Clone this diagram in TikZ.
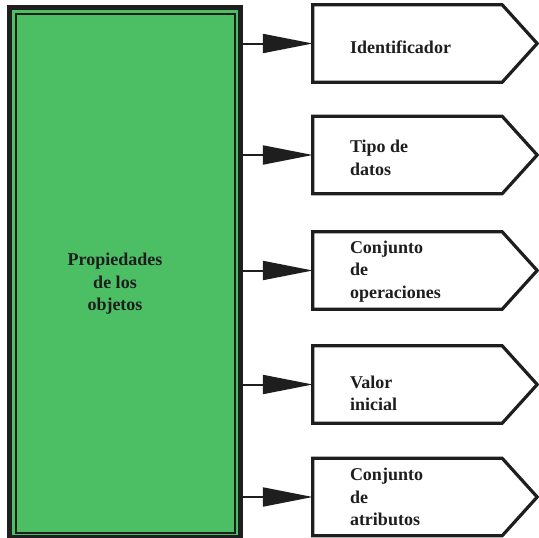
\documentclass[tikz,border=0pt]{standalone}
\usepackage{fontspec}
\setmainfont{Liberation Serif}
\usetikzlibrary{arrows.meta}
\definecolor{objgreen}{RGB}{76,190,100}
\definecolor{ink}{RGB}{30,30,30}
\tikzset{
  box/.style={draw=none, inner sep=0pt, minimum width=224pt, minimum height=77pt},
  penta/.style={draw=ink, line width=3.2pt, line join=miter, fill=white},
  lbl/.style={anchor=west, align=left, inner sep=0pt, font=\fontsize{18}{22.5}\selectfont\bfseries, text=ink},
  arr/.style={draw=ink, line width=2pt, -{Triangle[length=50pt,width=19pt]}}
}
\newcommand{\pentagon}[1]{%
  \draw[penta] (#1.north west) -- ([xshift=-35pt]#1.north east) -- (#1.east)
    -- ([xshift=-35pt]#1.south east) -- (#1.south west) -- cycle;}
\begin{document}
\begin{tikzpicture}[x=1pt,y=-1pt]
\useasboundingbox (0,0) rectangle (539,538);
% main box
\node[draw=ink, fill=objgreen, line width=4.5pt, inner sep=0pt,
      minimum width=231pt, minimum height=530pt, anchor=north west] (gbox) at (7,5) {};
\draw[ink, line width=2pt] ([shift={(9,9)}]gbox.north west) rectangle ([shift={(-8,-7)}]gbox.south east);
\node[align=center, inner sep=0pt, font=\fontsize{18}{22.5}\selectfont\bfseries, text=ink] (gtxt) at (115,284)
  {Propiedades\\de los\\objetos};
% right boxes
\node[box] (b1) at (425,43.5) {};
\node[box] (b2) at (425,155) {};
\node[box] (b3) at (425,270.5) {};
\node[box] (b4) at (425,384.5) {};
\node[box] (b5) at (425,497) {};
\pentagon{b1}
\pentagon{b2}
\pentagon{b3}
\pentagon{b4}
\pentagon{b5}
\node[lbl] (t1) at ([shift={(37,4)}]b1.west) {Identificador};
\node[lbl] (t2) at ([shift={(37,3)}]b2.west) {Tipo de\\datos};
\node[lbl] (t3) at ([shift={(37,1)}]b3.west) {Conjunto\\de\\operaciones};
\node[lbl] (t4) at ([shift={(37,9)}]b4.west) {Valor\\inicial};
\node[lbl] (t5) at ([shift={(37,0)}]b5.west) {Conjunto\\de\\atributos};
% arrows
\foreach \b in {b1,b2,b3,b4,b5}
  \draw[arr] (gbox.east |- \b.west) -- (\b.west);
\end{tikzpicture}
\end{document}
